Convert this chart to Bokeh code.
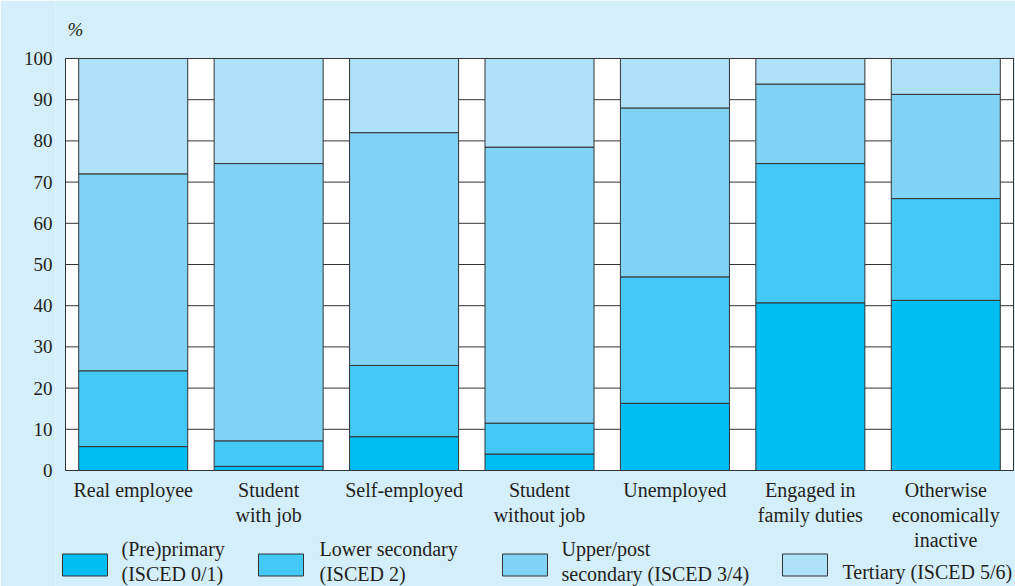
from bokeh.plotting import figure
from bokeh.models import FixedTicker, Range1d
from bokeh.core.properties import value
from bokeh.embed import file_html
from bokeh.resources import INLINE

# ---- data ----
categories = ["Real employee", "Student\nwith job", "Self-employed", "Student\nwithout job",
              "Unemployed", "Engaged in\nfamily duties", "Otherwise\neconomically\ninactive"]
levels = ["pre_primary", "lower_secondary", "upper_secondary", "tertiary"]
level_labels = ["(Pre)primary\n(ISCED 0/1)", "Lower secondary\n(ISCED 2)",
                "Upper/post\nsecondary (ISCED 3/4)", "Tertiary (ISCED 5/6)"]
pre_primary = [5.8, 1.0, 8.2, 4.0, 16.3, 40.7, 41.3]
lower_secondary = [18.4, 6.2, 17.3, 7.5, 30.7, 33.8, 24.7]
upper_secondary = [47.8, 67.3, 56.5, 67.0, 41.0, 19.3, 25.3]
tertiary = [28.0, 25.5, 18.0, 21.5, 12.0, 6.2, 8.7]
y_ticks = list(range(0, 101, 10))

colors = ["#00bdf2", "#44c8f5", "#80d3f5", "#aee1fa"]
BG = "#d4eefa"
FONT = "Liberation Serif"
TXT = "#231f20"
LINE = "#333333"

W, H = 1015, 586
# layout: pixel geometry of the plotting box
plot_left_px, plot_right_px = 65, 1013
plot_top_px, plot_bottom_px = 58, 470
frame_left_px = 55
n = len(categories)
xunit = (plot_right_px - plot_left_px) / n
yunit = (plot_bottom_px - plot_top_px) / 100.0

def xd(px):
    return (px - plot_left_px) / xunit

def yd(py):
    return (plot_bottom_px - py) / yunit

p = figure(x_range=Range1d(xd(frame_left_px), xd(W)), y_range=Range1d(yd(H), yd(0)),
           width=W, height=H, x_axis_location=None,
           output_backend="svg", toolbar_location=None,
           min_border_left=frame_left_px, min_border_right=0,
           min_border_top=0, min_border_bottom=0)
p.background_fill_color = BG
p.border_fill_color = BG
p.outline_line_color = None
p.grid.grid_line_color = None

xs = [i + 0.5 for i in range(n)]

# white plotting box with its frame
p.quad(left=0, right=n, bottom=y_ticks[0], top=y_ticks[-1], fill_color="white",
       line_color=LINE, line_width=1)
# horizontal grid lines
p.segment(x0=[0] * len(y_ticks), x1=[n] * len(y_ticks), y0=y_ticks, y1=y_ticks,
          line_color=LINE, line_width=1)

source = dict(x=xs, pre_primary=pre_primary, lower_secondary=lower_secondary,
              upper_secondary=upper_secondary, tertiary=tertiary)
p.vbar_stack(levels, x="x", width=0.805, color=colors, line_color=LINE,
             line_width=1, source=source)

# y axis
p.yaxis.ticker = FixedTicker(ticks=y_ticks)
p.yaxis.bounds = (0, 100)
p.yaxis.axis_line_color = None
p.yaxis.major_tick_out = 0
p.yaxis.major_tick_in = 0
p.yaxis.minor_tick_out = 0
p.yaxis.minor_tick_in = 0
p.yaxis.major_label_text_font = FONT
p.yaxis.major_label_text_font_size = "19px"
p.yaxis.major_label_text_color = TXT
p.yaxis.major_label_standoff = 3

# category labels
p.text(x=xs, y=[yd(478.5)] * n, text=categories, text_align="center", text_baseline="top",
       text_font=value(FONT), text_font_size=value("20px"), text_color=TXT,
       text_line_height=1.13)

# unit label
p.text(x=[xd(67)], y=[yd(18.5)], text=["%"], text_align="left", text_baseline="top",
       text_font=value(FONT), text_font_size=value("19px"), text_font_style="italic",
       text_color=TXT)

# legend
box_x = [62, 258, 502, 782]
text_x = [121, 319, 561, 842]
text_y = [537, 537, 537, 560]
p.quad(left=[xd(v) for v in box_x], right=[xd(v + 45) for v in box_x],
       top=[yd(553.5)] * 4, bottom=[yd(575.5)] * 4, fill_color=colors,
       line_color=LINE, line_width=1)
p.text(x=[xd(v) for v in text_x], y=[yd(v) for v in text_y], text=level_labels,
       text_align="left", text_baseline="top", text_font=value(FONT),
       text_font_size=value("20px"), text_color=TXT, text_line_height=1.14)

open("out.html", "w").write(file_html(p, INLINE))
